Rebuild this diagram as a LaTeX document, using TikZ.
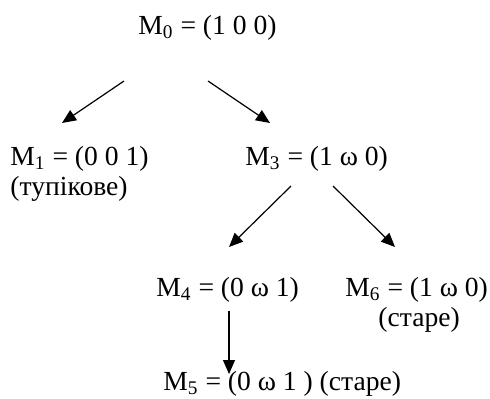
\documentclass[tikz,border=0pt]{standalone}
\usepackage{fontspec}
\setmainfont{Liberation Serif}
\usetikzlibrary{arrows.meta}
\begin{document}
\begin{tikzpicture}[x=0.5pt,y=-0.5pt,
  lbl/.style={anchor=base west,inner sep=0pt,font=\fontsize{13.8}{16}\selectfont},
  arr/.style={-{Triangle[length=7pt,width=6pt]},line width=0.6pt}]
  \useasboundingbox (0,0) rectangle (490,398);
  \node[lbl] (m0) at (138,34) {M\textsubscript{0} = (1 0 0)};
  \node[lbl] (m1) at (10,165) {M\textsubscript{1} = (0 0 1)};
  \node[lbl] (m1n) at (10,195) {(тупікове)};
  \node[lbl] (m3) at (245,165) {M\textsubscript{3} = (1 ω 0)};
  \node[lbl] (m4) at (156,296) {M\textsubscript{4} = (0 ω 1)};
  \node[lbl] (m6) at (345,296) {M\textsubscript{6} = (1 ω 0)};
  \node[lbl] (m6n) at (378,326) {(старе)};
  \node[lbl] (m5) at (163,390) {M\textsubscript{5} = (0 ω 1 ) (старе)};
  \draw[arr] ([shift={(-14,47)}]m0.base west) -- ([shift={(52,-42)}]m1.base west);
  \draw[arr] ([shift={(70,47)}]m0.base west) -- ([shift={(25,-42)}]m3.base west);
  \draw[arr] ([shift={(46,21)}]m3.base west) -- ([shift={(73,-49)}]m4.base west);
  \draw[arr] ([shift={(88,21)}]m3.base west) -- ([shift={(50,-49)}]m6.base west);
  \draw[arr] ([shift={(73,15)}]m4.base west) -- ([shift={(66,-16)}]m5.base west);
\end{tikzpicture}
\end{document}
